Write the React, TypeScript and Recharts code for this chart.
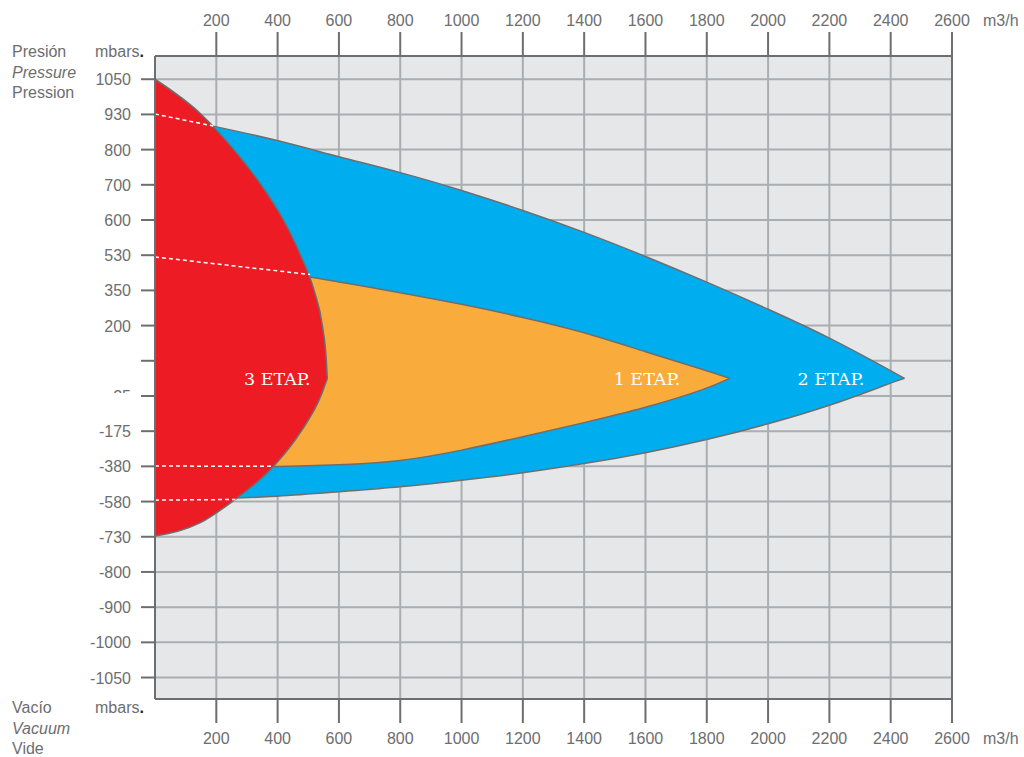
import React from "react";
import {
  ComposedChart,
  Area,
  Line,
  XAxis,
  YAxis,
  CartesianGrid,
  ReferenceLine,
  ReferenceDot,
} from "recharts";

// flow axis (m3/h)
const flowTicks = [200, 400, 600, 800, 1000, 1200, 1400, 1600, 1800, 2000, 2200, 2400, 2600];

// pressure rows are evenly spaced, labels are not linear
const pressureLabels = [
  "-1050", "-1000", "-900", "-800", "-730", "-580", "-380", "-175", "-25",
  "", "200", "350", "530", "600", "700", "800", "930", "1050",
];
const pressureRows = pressureLabels.map((_, i) => i);
const zeroRow = 8.5;

// 3 ETAP. (red): upper edge (pressure side) and lower edge (vacuum side)
const stage3UpperFlow = [0, 151, 257, 346, 419, 475, 519, 546, 559, 562];
const stage3UpperRow = [17, 16, 15, 14, 13, 12, 11, 10, 9, 8.5];
const stage3LowerFlow = [0, 148, 252, 387, 477, 541, 562];
const stage3LowerRow = [4.02, 4.4, 5, 6, 7, 8, 8.5];

// 2 ETAP. (blue)
const stage2Flow = [0, 190, 400, 600, 800, 1000, 1200, 1400, 1600, 1800, 2000, 2200, 2400, 2445];
const stage2Low = [5.04, 5.07, 5.14, 5.28, 5.41, 5.6, 5.81, 6.07, 6.38, 6.75, 7.2, 7.71, 8.37, 8.5];
const stage2High = [16.01, 15.67, 15.27, 14.79, 14.36, 13.85, 13.28, 12.66, 11.97, 11.24, 10.47, 9.67, 8.72, 8.5];

// 1 ETAP. (orange)
const stage1Flow = [0, 200, 400, 600, 800, 1000, 1200, 1400, 1600, 1800, 1875];
const stage1Low = [6.01, 5.99, 5.99, 6.04, 6.13, 6.45, 6.84, 7.24, 7.66, 8.2, 8.5];
const stage1High = [11.95, 11.75, 11.55, 11.24, 10.94, 10.61, 10.24, 9.82, 9.25, 8.72, 8.5];

// hidden limits shown dashed over the red zone
const dashTop2 = [{ x: 0, y: 16.01 }, { x: 190, y: 15.67 }];
const dashTop1 = [{ x: 0, y: 11.95 }, { x: 506, y: 11.45 }];
const dashLow1 = [{ x: 0, y: 6.01 }, { x: 387, y: 6.0 }];
const dashLow2 = [{ x: 0, y: 5.04 }, { x: 262, y: 5.06 }];

const stageNames = ["3 ETAP.", "1 ETAP.", "2 ETAP."];
const stageLabelFlow = [399, 1605, 2205];

const X_DOMAIN: [number, number] = [0, 2600];
const Y_DOMAIN: [number, number] = [-0.61, 17.66];

const GREY = "#6d6e70";
const GRID = "#a9aeb3";
const FONT = "'Liberation Sans', Arial, sans-serif";

function toRange(flow: number[], low: number[], high: number[]) {
  return flow.map((x, i) => ({ x, r: [low[i], high[i]] }));
}
function toPoints(flow: number[], row: number[]) {
  return flow.map((x, i) => ({ x, y: row[i] }));
}

const stage2Data = toRange(stage2Flow, stage2Low, stage2High);
const stage1Data = toRange(stage1Flow, stage1Low, stage1High);
const stage3Upper = toPoints(stage3UpperFlow, stage3UpperRow);
const stage3Lower = toPoints(stage3LowerFlow, stage3LowerRow);

function TopTick(props: any) {
  const { x, payload } = props;
  return (
    <g>
      <line x1={x} x2={x} y1={32} y2={56} stroke={GREY} strokeWidth={2} />
      <text x={x} y={26} textAnchor="middle" fontSize={16} fill={GREY} fontFamily={FONT}>
        {payload.value}
      </text>
    </g>
  );
}

function BottomTick(props: any) {
  const { x, payload } = props;
  return (
    <g>
      <line x1={x} x2={x} y1={699} y2={723} stroke={GREY} strokeWidth={2} />
      <text x={x} y={744} textAnchor="middle" fontSize={16} fill={GREY} fontFamily={FONT}>
        {payload.value}
      </text>
    </g>
  );
}

function PressureTick(props: any) {
  const { y, payload } = props;
  const label = pressureLabels[payload.value] ?? "";
  return (
    <g>
      <line x1={141} x2={155} y1={y} y2={y} stroke={GREY} strokeWidth={2} />
      {label && (
        <text x={131} y={y + 6} textAnchor="end" fontSize={16} fill={GREY} fontFamily={FONT}>
          {label}
        </text>
      )}
      {label === "-25" && <rect x={95} y={y - 3} width={40} height={14} fill="#fff" />}
    </g>
  );
}

function ZeroTick(props: any) {
  const { y } = props;
  return (
    <g>
      <line x1={12} x2={128} y1={y} y2={y} stroke={GREY} strokeWidth={2} />
      <text x={136} y={y + 6} fontSize={16} fill={GREY} fontFamily={FONT}>
        0
      </text>
    </g>
  );
}

const sideText = (x: number, y: number, s: string, italic = false) => (
  <text x={x} y={y} fontSize={16} fill={GREY} fontFamily={FONT} fontStyle={italic ? "italic" : "normal"}>
    {s}
  </text>
);

export default function App() {
  return (
    <div style={{ position: "absolute", left: 0, top: 0, width: 1024, height: 757, background: "#fff" }}>
      <ComposedChart width={1024} height={757} margin={{ top: 16, right: 72, bottom: 18, left: 10 }}>
        <CartesianGrid
          stroke={GRID}
          strokeWidth={2}
          fill="#e6e7e8"
          fillOpacity={1}
          horizontalValues={pressureRows}
          verticalValues={flowTicks}
        />
        <XAxis
          type="number"
          dataKey="x"
          domain={X_DOMAIN}
          ticks={flowTicks}
          allowDataOverflow
          height={40}
          axisLine={false}
          tickLine={false}
          tick={<BottomTick />}
          interval={0}
        />
        <XAxis
          xAxisId="top"
          orientation="top"
          type="number"
          dataKey="x"
          domain={X_DOMAIN}
          ticks={flowTicks}
          allowDataOverflow
          height={40}
          axisLine={false}
          tickLine={false}
          tick={<TopTick />}
          interval={0}
        />
        <YAxis
          type="number"
          domain={Y_DOMAIN}
          ticks={pressureRows}
          allowDataOverflow
          width={145}
          axisLine={false}
          tickLine={false}
          tick={<PressureTick />}
          interval={0}
        />
        <YAxis
          yAxisId="zero"
          type="number"
          domain={Y_DOMAIN}
          ticks={[zeroRow]}
          allowDataOverflow
          width={0}
          axisLine={false}
          tickLine={false}
          tick={<ZeroTick />}
          interval={0}
        />

        <Area
          data={stage2Data}
          dataKey="r"
          type="basis"
          fill="#00aeef"
          fillOpacity={1}
          stroke={GREY}
          strokeWidth={1.5}
          isAnimationActive={false}
        />
        <Area
          data={stage1Data}
          dataKey="r"
          type="basis"
          fill="#f9ab3c"
          fillOpacity={1}
          stroke={GREY}
          strokeWidth={1.5}
          isAnimationActive={false}
        />
        {/* red zone: two halves meeting on the 0 row */}
        <Area
          data={stage3Upper}
          dataKey="y"
          type="monotone"
          baseValue={8.45}
          fill="#ed1c24"
          fillOpacity={1}
          stroke={GREY}
          strokeWidth={1.5}
          isAnimationActive={false}
        />
        <Area
          data={stage3Lower}
          dataKey="y"
          type="monotone"
          baseValue={8.55}
          fill="#ed1c24"
          fillOpacity={1}
          stroke={GREY}
          strokeWidth={1.5}
          isAnimationActive={false}
        />
        {[dashTop2, dashTop1, dashLow1, dashLow2].map((d, i) => (
          <Line
            key={i}
            data={d}
            dataKey="y"
            type="linear"
            stroke="#ffffff"
            strokeWidth={1.5}
            strokeDasharray="4 3"
            dot={false}
            activeDot={false}
            isAnimationActive={false}
          />
        ))}

        <ReferenceLine x={0} stroke={GREY} strokeWidth={2} ifOverflow="visible" />
        <ReferenceLine x={2600} stroke={GREY} strokeWidth={2} ifOverflow="visible" />
        <ReferenceLine y={Y_DOMAIN[0]} stroke={GREY} strokeWidth={2} ifOverflow="visible" />
        <ReferenceLine y={Y_DOMAIN[1]} stroke={GREY} strokeWidth={2} ifOverflow="visible" />

        {stageNames.map((name, i) => (
          <ReferenceDot
            key={name}
            x={stageLabelFlow[i]}
            y={zeroRow}
            r={0}
            fill="none"
            stroke="none"
            ifOverflow="visible"
            label={{
              value: name,
              position: "center",
              fill: "#ffffff",
              fontSize: 17.5,
              fontFamily: "'DejaVu Serif', serif",
            }}
          />
        ))}
      </ComposedChart>

      <svg
        width={1024}
        height={757}
        style={{ position: "absolute", left: 0, top: 0, pointerEvents: "none" }}
      >
        {sideText(12, 57, "Presión")}
        {sideText(12, 78, "Pressure", true)}
        {sideText(12, 98, "Pression")}
        <text x={95} y={57} fontSize={16} fill={GREY} fontFamily={FONT}>
          mbars<tspan fill="#231f20" fontWeight="bold">.</tspan>
        </text>
        {sideText(12, 713, "Vacío")}
        {sideText(12, 734, "Vacuum", true)}
        {sideText(12, 754, "Vide")}
        <text x={95} y={713} fontSize={16} fill={GREY} fontFamily={FONT}>
          mbars<tspan fill="#231f20" fontWeight="bold">.</tspan>
        </text>
        {sideText(983, 26, "m3/h")}
        {sideText(983, 744, "m3/h")}
      </svg>
    </div>
  );
}
